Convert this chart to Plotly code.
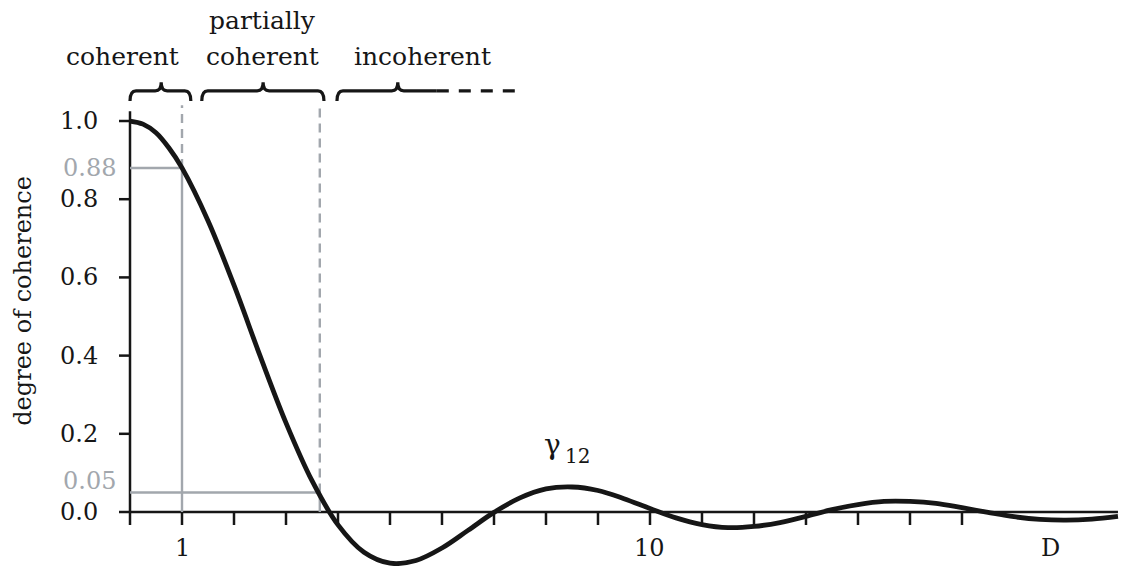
import plotly.graph_objects as go

# Degree of coherence against separation
separation = [0.0, 0.25, 0.5, 0.75, 1.0, 1.5, 2.0, 2.5, 3.0, 3.5, 4.0, 4.5, 5.0,
              5.5, 6.0, 6.5, 7.0, 7.5, 8.0, 8.5, 9.0, 9.5, 10.0, 10.5, 11.0,
              11.5, 12.0, 12.5, 13.0, 13.5, 14.0, 14.5, 15.0, 15.5, 16.0, 16.5,
              17.0, 17.5, 18.0, 18.5, 19.0]
coherence = [1.000, 0.992, 0.970, 0.931, 0.880, 0.745, 0.580, 0.400, 0.228,
             0.080, -0.033, -0.103, -0.131, -0.124, -0.092, -0.047, -0.001,
             0.036, 0.059, 0.064, 0.055, 0.034, 0.009, -0.015, -0.032, -0.040,
             -0.037, -0.027, -0.011, 0.006, 0.019, 0.027, 0.027, 0.022, 0.011,
             -0.001, -0.012, -0.019, -0.021, -0.018, -0.011]

y_tick_values = [0.0, 0.2, 0.4, 0.6, 0.8, 1.0]
y_tick_labels = ["0.0", "0.2", "0.4", "0.6", "0.8", "1.0"]
x_tick_values = list(range(17))
x_tick_labels = {1: "1", 10: "10"}
d_position = 17.7
d_label = "D"

# thresholds: (separation, coherence, label, label height)
thresholds = [(1.0, 0.88, "0.88", 0.88), (3.65, 0.05, "0.05", 0.079)]

# regime braces: (start, end, tip) in separation units
braces = [(0.0, 1.17, 0.6), (1.38, 3.73, 2.56)]
open_brace = (3.98, 5.15, 5.9, 7.5)  # start, tip, solid end, dashed end
regime_labels = [(-0.15, ["coherent"]), (2.55, ["partially", "coherent"]),
                 (5.62, ["incoherent"])]

FONT = "DejaVu Serif"
INK = "#161616"
GREY = "#a2a7ad"
X_RANGE = [-2.5, 19.058]
Y_RANGE = [-0.1381, 1.3095]
PX_X = 52.0    # pixels per separation unit
PX_Y = 391.0   # pixels per coherence unit

fig = go.Figure()

shapes = []
annotations = []


def seg(x0, y0, x1, y1, color=INK, width=2.5, dash=None):
    line = dict(color=color, width=width)
    if dash:
        line["dash"] = dash
    shapes.append(dict(type="line", xref="x", yref="y", x0=x0, y0=y0,
                       x1=x1, y1=y1, line=line, layer="below"))


def label(x, y, text, size=24, color=INK, xanchor="center", **kw):
    annotations.append(dict(x=x, y=y, text=text, showarrow=False,
                            xanchor=xanchor, yanchor="middle",
                            font=dict(family=FONT, size=size, color=color), **kw))


# axes
seg(0, 0, 19.0, 0)
seg(0, 0, 0, 1.025)
for xv in x_tick_values:
    seg(xv, 0, xv, -13 / PX_Y)
for yv in y_tick_values:
    seg(-11 / PX_X, yv, 0, yv)

# threshold guides
for xs, yc, _, _ in thresholds:
    seg(0, yc, xs, yc, color=GREY, width=2.4)
    seg(xs, 0, xs, yc, color=GREY, width=2.4)
    seg(xs, yc, xs, 1.04, color=GREY, width=2.4, dash="9px,6px")

# braces
y_line = 1.077
y_end = 1.051
y_tip = 1.099
r = 6 / PX_X


def brace_path(x0, x1, xm):
    return (f"M {x0},{y_end} Q {x0},{y_line} {x0 + r},{y_line} "
            f"L {xm - r},{y_line} Q {xm},{y_line} {xm},{y_tip} "
            f"Q {xm},{y_line} {xm + r},{y_line} "
            f"L {x1 - r},{y_line} Q {x1},{y_line} {x1},{y_end}")


for x0, x1, xm in braces:
    shapes.append(dict(type="path", xref="x", yref="y", path=brace_path(x0, x1, xm),
                       line=dict(color=INK, width=3.2)))

b0, bm, b1, b2 = open_brace
shapes.append(dict(type="path", xref="x", yref="y",
                   path=(f"M {b0},{y_end} Q {b0},{y_line} {b0 + r},{y_line} "
                         f"L {bm - r},{y_line} Q {bm},{y_line} {bm},{y_tip} "
                         f"Q {bm},{y_line} {bm + r},{y_line} L {b1},{y_line}"),
                   line=dict(color=INK, width=3.2)))
seg(b1, y_line, b2, y_line, width=3.2, dash="12px,10px")

# curve
fig.add_trace(go.Scatter(x=separation, y=coherence, mode="lines",
                         line=dict(color=INK, width=4.8, shape="spline", smoothing=1.0),
                         hoverinfo="skip", showlegend=False))

# tick labels
for yv, txt in zip(y_tick_values, y_tick_labels):
    label(-30 / PX_X, yv, txt, xanchor="right")
for _, _, txt, ylab in thresholds:
    label(-12 / PX_X, ylab, txt, color=GREY, xanchor="right")
for xv, txt in x_tick_labels.items():
    label(xv, -0.092, txt)
label(d_position, -0.092, d_label)

# regime labels
for xc, lines in regime_labels:
    for i, txt in enumerate(reversed(lines)):
        label(xc, 1.165 + i * 0.092, txt, size=25)

# curve label and axis title
label(8.12, 0.172, "γ", size=28)
label(8.6, 0.142, "12", size=20)
label(-2.06, 0.54, "degree of coherence", textangle=-90)

fig.update_layout(
    width=1121, height=566,
    margin=dict(l=0, r=0, t=0, b=0),
    paper_bgcolor="white", plot_bgcolor="white",
    xaxis=dict(range=X_RANGE, visible=False, fixedrange=True),
    yaxis=dict(range=Y_RANGE, visible=False, fixedrange=True),
    shapes=shapes, annotations=annotations,
    showlegend=False,
)

fig.write_html("out.html")
